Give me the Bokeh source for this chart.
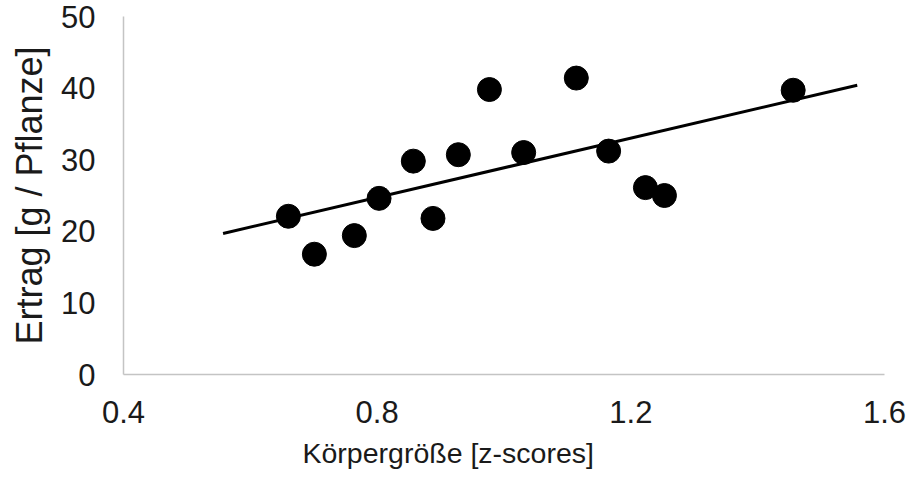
from bokeh.plotting import figure
from bokeh.models import Range1d, FixedTicker, Title
from bokeh.embed import file_html
from bokeh.resources import INLINE

# Data
koerpergroesse = [0.660, 0.701, 0.764, 0.803, 0.857, 0.888, 0.928, 0.977,
                  1.031, 1.114, 1.165, 1.223, 1.253, 1.456]
ertrag = [22.1, 16.8, 19.4, 24.6, 29.8, 21.8, 30.7, 39.8,
          31.0, 41.4, 31.2, 26.1, 25.0, 39.7]

trend_x = [0.557, 1.557]
trend_y = [19.7, 40.4]

x_ticks = [0.4, 0.8, 1.2, 1.6]
y_ticks = [0, 10, 20, 30, 40, 50]

x_title = "Körpergröße [z-scores]"
y_title = "Ertrag [g / Pflanze]"

FONT = "Liberation Sans"
TXT = "#1a1a1a"

p = figure(width=913, height=484, output_backend="svg", toolbar_location=None,
           x_range=Range1d(0.4, 1.6), y_range=Range1d(0, 50),
           min_border_left=123, min_border_right=29,
           min_border_top=16, min_border_bottom=110)
p.outline_line_color = None
p.xgrid.visible = False
p.ygrid.visible = False
p.background_fill_color = "white"
p.border_fill_color = "white"

p.line(trend_x, trend_y, line_color="black", line_width=3)
p.scatter(koerpergroesse, ertrag, size=24, marker="circle",
          fill_color="black", line_color="black")

for ax in (p.xaxis[0], p.yaxis[0]):
    ax.axis_line_color = "#c4c4c4"
    ax.axis_line_width = 1.5
    ax.major_tick_line_color = None
    ax.minor_tick_line_color = None
    ax.major_tick_in = 0
    ax.major_tick_out = 0
    ax.minor_tick_in = 0
    ax.minor_tick_out = 0
    ax.major_label_text_font = FONT
    ax.major_label_text_font_size = "31px"
    ax.major_label_text_color = TXT
    ax.axis_label_text_font = FONT
    ax.axis_label_text_font_style = "normal"
    ax.axis_label_text_color = TXT

p.xaxis[0].ticker = FixedTicker(ticks=x_ticks)
p.yaxis[0].ticker = FixedTicker(ticks=y_ticks)
p.xaxis[0].major_label_overrides = {0.4: "0.4", 0.8: "0.8", 1.2: "1.2", 1.6: "1.6"}
p.xaxis[0].major_label_standoff = 26

p.yaxis[0].axis_label = y_title
p.yaxis[0].axis_label_text_font_size = "36px"
p.yaxis[0].major_label_standoff = 28
p.yaxis[0].axis_label_standoff = 8

# x-axis title sits left of the frame centre in the reference
p.add_layout(Title(text=x_title, align="left", offset=179, standoff=18,
                   text_font=FONT, text_font_size="28.5px",
                   text_font_style="normal", text_color=TXT), "below")

open("out.html", "w").write(file_html(p, INLINE))
